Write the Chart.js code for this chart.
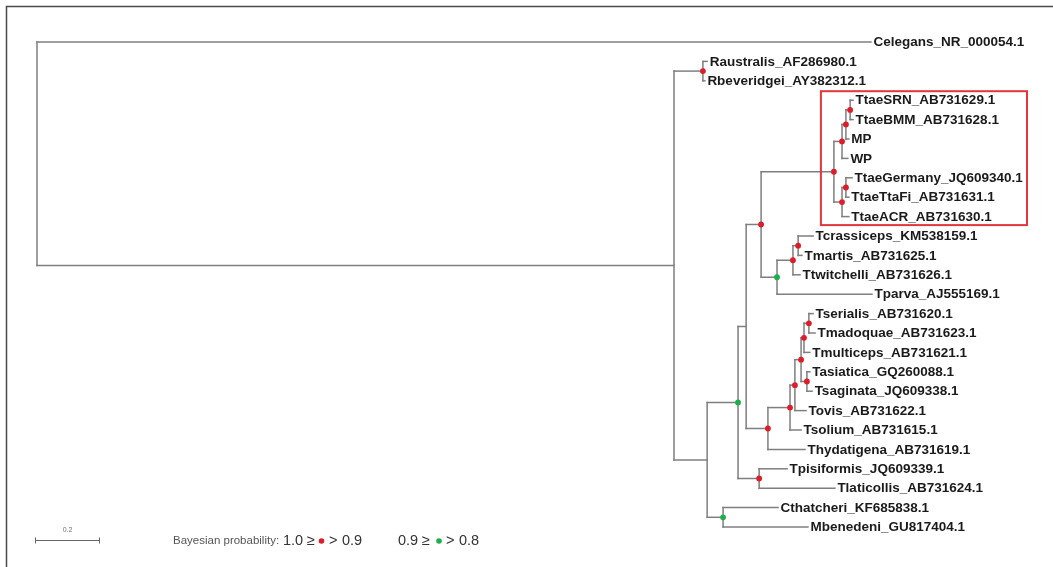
<!DOCTYPE html>
<html><head><meta charset="utf-8">
<script src="https://cdn.jsdelivr.net/npm/chart.js@4"></script>
<style>html,body{margin:0;padding:0;background:#fff}canvas{display:block}</style>
</head><body>
<canvas id="c" width="1053" height="567"></canvas>
<script>
// ---- DATA ----
const leafNames = ['Celegans_NR_000054.1','Raustralis_AF286980.1','Rbeveridgei_AY382312.1',
  'TtaeSRN_AB731629.1','TtaeBMM_AB731628.1','MP','WP','TtaeGermany_JQ609340.1','TtaeTtaFi_AB731631.1',
  'TtaeACR_AB731630.1','Tcrassiceps_KM538159.1','Tmartis_AB731625.1','Ttwitchelli_AB731626.1',
  'Tparva_AJ555169.1','Tserialis_AB731620.1','Tmadoquae_AB731623.1','Tmulticeps_AB731621.1',
  'Tasiatica_GQ260088.1','Tsaginata_JQ609338.1','Tovis_AB731622.1','Tsolium_AB731615.1',
  'Thydatigena_AB731619.1','Tpisiformis_JQ609339.1','Tlaticollis_AB731624.1',
  'Cthatcheri_KF685838.1','Mbenedeni_GU817404.1'];
const leafParents = ['root','nR','nR','nL','nL','nM','nJ','nN','nN','nK','nF','nF','nGg','nH',
  'nE','nE','nD','nC','nC','nA','nSo','nHy','nPL','nPL','nCM','nCM'];
const leafDepth = [2.566,2.062,2.055,2.511,2.511,2.498,2.495,2.508,2.498,2.498,2.388,2.354,2.348,
  2.569,2.388,2.394,2.378,2.378,2.385,2.366,2.351,2.363,2.308,2.455,2.280,2.372];

const nodeIds     = ['root','n1','nR','n2','nCM','nG1','n3','nPL','nT','nHy','nI','nJ','nM','nL','nK','nN','nH','nGg','nF','nSo','nA','nB','nD','nE','nC'];
const nodeParents = [null,'root','n1','n1','n2','n2','nG1','nG1','n3','n3','nT','nI','nJ','nM','nI','nK','nT','nH','nGg','nHy','nSo','nA','nB','nD','nB'];
const nodeDepth   = [0,1.960,2.049,2.062,2.111,2.157,2.182,2.222,2.228,2.249,2.452,2.477,2.489,2.502,2.477,2.489,2.277,2.326,2.342,2.317,2.332,2.351,2.360,2.375,2.369];
const nodeSupport = [null,null,'high',null,'mid','mid',null,'high','high','high','high','high','high','high','high','high','mid','high','high','high','high','high','high','high','high'];

const highlightClade = ['TtaeSRN_AB731629.1','TtaeACR_AB731630.1'];
const scaleBarLength = 0.2;
const scaleBarLabel = '0.2';
const legendTitle = 'Bayesian probability:';
const legendHigh = ['1.0', '\u2265', '>', '0.9'];
const legendMid = ['0.9', '\u2265', '>', '0.8'];

// ---- LAYOUT (derived) ----
const nodeY = {}, nodeSpan = {};
function childrenOf(id){
  const c = [];
  nodeIds.forEach((n,i)=>{ if(nodeParents[i]===id) c.push({y: yOf(n)}); });
  leafParents.forEach((p,i)=>{ if(p===id) c.push({y:i}); });
  return c;
}
function yOf(id){
  if(nodeY[id]!==undefined) return nodeY[id];
  const ys = childrenOf(id).map(c=>c.y);
  const lo = Math.min(...ys), hi = Math.max(...ys);
  nodeSpan[id] = [lo,hi];
  nodeY[id] = (lo+hi)/2;
  return nodeY[id];
}
nodeIds.forEach(yOf);
const depthOf = id => nodeDepth[nodeIds.indexOf(id)];

const lineColor = '#7f7f7f';
const datasets = [];
function seg(a,b){
  datasets.push({type:'line', data:[a,b], borderColor:lineColor, borderWidth:1.5,
    pointRadius:0, fill:false, tension:0, borderCapStyle:'square', order:2});
}
nodeIds.forEach(id=>{
  const [lo,hi] = nodeSpan[id];
  seg({x:depthOf(id), y:lo},{x:depthOf(id), y:hi});
});
nodeIds.forEach((id,i)=>{
  if(!nodeParents[i]) return;
  seg({x:depthOf(nodeParents[i]), y:nodeY[id]},{x:nodeDepth[i], y:nodeY[id]});
});
leafNames.forEach((n,i)=>{
  seg({x:depthOf(leafParents[i]), y:i},{x:leafDepth[i], y:i});
});
const dotPts = [], dotCols = [];
nodeIds.forEach((id,i)=>{
  if(!nodeSupport[i]) return;
  dotPts.push({x:nodeDepth[i], y:nodeY[id]});
  dotCols.push(nodeSupport[i]==='high' ? '#dc1e2a' : '#1fae4b');
});
datasets.push({type:'scatter', data:dotPts, pointRadius:2.9, pointBackgroundColor:dotCols,
  pointBorderWidth:0, order:1});

const PX_PER_UNIT = 325, ROOT_PX = 37, ROW_PX = 19.4, TOP_PX = 42;
const W = 1053, H = 567;

const overlay = {
  id:'overlay',
  afterDatasetsDraw(chart){
    const ctx = chart.ctx, xs = chart.scales.x, ys = chart.scales.y;
    ctx.save();
    ctx.strokeStyle = '#4a4a4a'; ctx.lineWidth = 1.5;
    ctx.beginPath(); ctx.moveTo(6.5, H); ctx.lineTo(6.5, 6.5); ctx.lineTo(W, 6.5); ctx.stroke();
    ctx.font = 'bold 13.5px "Liberation Sans", Arial, sans-serif';
    ctx.fillStyle = '#1a1a1a'; ctx.textBaseline = 'middle'; ctx.textAlign = 'left';
    leafNames.forEach((n,i)=>{
      ctx.fillText(n, xs.getPixelForValue(leafDepth[i]) + 2.5, ys.getPixelForValue(i) + 0.5);
    });
    const r0 = leafNames.indexOf(highlightClade[0]), r1 = leafNames.indexOf(highlightClade[1]);
    const left = xs.getPixelForValue(depthOf('nI')) - 13;
    ctx.strokeStyle = '#e0363c'; ctx.lineWidth = 2;
    ctx.strokeRect(left, ys.getPixelForValue(r0) - 9, 1027 - left, ys.getPixelForValue(r1) - ys.getPixelForValue(r0) + 17.5);
    const x0 = 35, len = xs.getPixelForValue(scaleBarLength) - xs.getPixelForValue(0), yb = 540.5;
    ctx.strokeStyle = '#666'; ctx.lineWidth = 1;
    ctx.beginPath();
    ctx.moveTo(x0, yb); ctx.lineTo(x0+len, yb);
    ctx.moveTo(x0+0.5, yb-3); ctx.lineTo(x0+0.5, yb+3);
    ctx.moveTo(x0+len-0.5, yb-3); ctx.lineTo(x0+len-0.5, yb+3);
    ctx.stroke();
    ctx.font = '7px "Liberation Sans", Arial, sans-serif'; ctx.fillStyle = '#777'; ctx.textAlign = 'center';
    ctx.fillText(scaleBarLabel, x0 + len/2, 530);
    ctx.textAlign = 'left';
    ctx.font = '11.5px "Liberation Sans", Arial, sans-serif'; ctx.fillStyle = '#555';
    ctx.fillText(legendTitle, 173, 541);
    ctx.font = '14.5px "Liberation Sans", Arial, sans-serif'; ctx.fillStyle = '#333';
    const hx = [283, 307, 329, 342], mx = [398, 422, 446, 459];
    legendHigh.forEach((t,i)=>ctx.fillText(t, hx[i], 541));
    legendMid.forEach((t,i)=>ctx.fillText(t, mx[i], 541));
    ctx.fillStyle = '#dc1e2a'; ctx.beginPath(); ctx.arc(321.5, 541, 2.8, 0, Math.PI*2); ctx.fill();
    ctx.fillStyle = '#1fae4b'; ctx.beginPath(); ctx.arc(439, 541, 2.8, 0, Math.PI*2); ctx.fill();
    ctx.restore();
  }
};

new Chart(document.getElementById('c'), {
  data:{datasets},
  options:{
    responsive:false, animation:false, events:[],
    layout:{padding:0, autoPadding:false},
    plugins:{legend:{display:false}, tooltip:{enabled:false}},
    scales:{
      x:{type:'linear', display:false, min:-ROOT_PX/PX_PER_UNIT, max:(W-ROOT_PX)/PX_PER_UNIT},
      y:{type:'linear', display:false, reverse:true, min:-TOP_PX/ROW_PX, max:(H-TOP_PX)/ROW_PX}
    }
  },
  plugins:[overlay]
});
</script>
</body></html>
